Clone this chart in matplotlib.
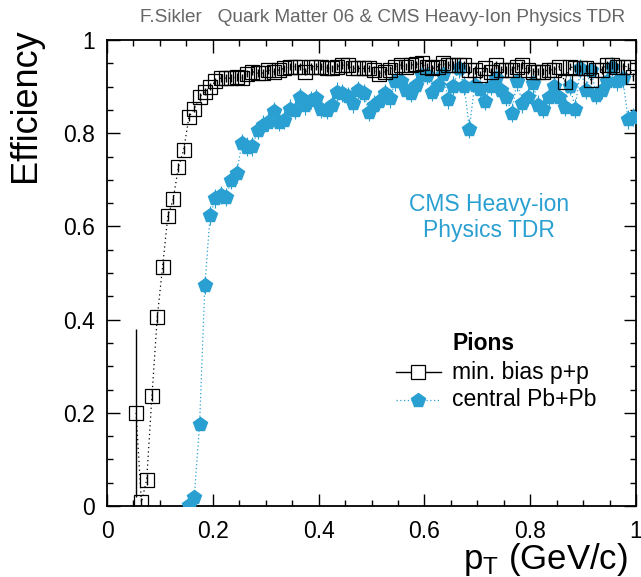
import matplotlib
matplotlib.use("Agg")
import matplotlib.pyplot as plt
from matplotlib.ticker import MultipleLocator
from matplotlib.lines import Line2D

plt.rcParams['font.family'] = ['Liberation Sans', 'DejaVu Sans']
plt.rcParams['mathtext.fontset'] = 'custom'
plt.rcParams['mathtext.rm'] = 'Liberation Sans'
plt.rcParams['mathtext.it'] = 'Liberation Sans'

# ---- data -------------------------------------------------------------
bin_width = 0.01
pp_first_center = 0.055
pbpb_first_center = 0.155

eff_pp = [0.200, 0.008, 0.056, 0.237, 0.405, 0.513, 0.622, 0.658, 0.727, 0.765,
          0.835, 0.853, 0.878, 0.889, 0.900, 0.911, 0.918, 0.918, 0.918, 0.921,
          0.919, 0.928, 0.932, 0.929, 0.929, 0.936, 0.932, 0.936, 0.939, 0.943,
          0.943, 0.943, 0.932, 0.943, 0.943, 0.943, 0.940, 0.939, 0.943, 0.946,
          0.946, 0.939, 0.939, 0.939, 0.939, 0.936, 0.928, 0.932, 0.936, 0.943,
          0.946, 0.943, 0.946, 0.948, 0.950, 0.943, 0.939, 0.943, 0.950, 0.946,
          0.946, 0.946, 0.946, 0.936, 0.936, 0.925, 0.939, 0.932, 0.946, 0.936,
          0.936, 0.936, 0.943, 0.946, 0.936, 0.932, 0.932, 0.932, 0.936, 0.936,
          0.943, 0.910, 0.943, 0.939, 0.939, 0.939, 0.914, 0.936, 0.936, 0.946,
          0.946, 0.943, 0.943, 0.943, 0.921]
err_pp = [0.180, 0.010, 0.012, 0.012, 0.012, 0.012, 0.010, 0.010, 0.010, 0.010] + [0.008] * 85

eff_pbpb = [0.002, 0.020, 0.175, 0.474, 0.624, 0.660, 0.667, 0.663, 0.700, 0.714,
            0.778, 0.771, 0.772, 0.807, 0.818, 0.825, 0.848, 0.825, 0.828, 0.853,
            0.850, 0.878, 0.860, 0.871, 0.875, 0.853, 0.850, 0.860, 0.889, 0.886,
            0.880, 0.864, 0.893, 0.886, 0.846, 0.861, 0.870, 0.886, 0.875, 0.911,
            0.911, 0.893, 0.886, 0.903, 0.925, 0.925, 0.889, 0.903, 0.928, 0.873,
            0.902, 0.939, 0.902, 0.810, 0.903, 0.894, 0.869, 0.902, 0.918, 0.893,
            0.878, 0.844, 0.911, 0.864, 0.878, 0.907, 0.861, 0.853, 0.878, 0.902,
            0.878, 0.857, 0.902, 0.853, 0.939, 0.893, 0.936, 0.882, 0.893, 0.913,
            0.943, 0.911, 0.918, 0.830, 0.835]
err_pbpb = [0.010] * 3 + [0.02] * 82

pt_pp = [round(pp_first_center + bin_width * i, 3) for i in range(len(eff_pp))]
pt_pbpb = [round(pbpb_first_center + bin_width * i, 3) for i in range(len(eff_pbpb))]

x_ticks = [0, 0.2, 0.4, 0.6, 0.8, 1]
x_ticklabels = ['0', '0.2', '0.4', '0.6', '0.8', '1']
y_ticks = [0, 0.2, 0.4, 0.6, 0.8, 1]
y_ticklabels = ['0', '0.2', '0.4', '0.6', '0.8', '1']

blue = '#2aa0d2'

# ---- figure -----------------------------------------------------------
fig = plt.figure(figsize=(6.41, 5.77), dpi=100)
ax = fig.add_axes([107/641, 1 - 506/577, (636 - 107)/641, (506 - 40)/577])

ax.errorbar(pt_pbpb, eff_pbpb, yerr=err_pbpb, fmt='p', color=blue, ms=10.5,
            mec=blue, mfc=blue, elinewidth=0.8, ecolor=blue, capsize=0, zorder=3)
ax.plot(pt_pbpb, eff_pbpb, ls=(0, (1, 2)), color=blue, lw=0.9, zorder=2)
ax.errorbar(pt_pp, eff_pp, yerr=err_pp, fmt='s', color='black', ms=9.8,
            mfc='none', mec='black', mew=0.9, elinewidth=1.0, ecolor='black',
            capsize=0, zorder=4)
ax.plot(pt_pp, eff_pp, ls=(0, (1, 2.5)), color='black', lw=0.9, zorder=2)

ax.set_xlim(0, 1)
ax.set_ylim(0, 1)
ax.set_xticks(x_ticks)
ax.set_xticklabels(x_ticklabels)
ax.set_yticks(y_ticks)
ax.set_yticklabels(y_ticklabels)
ax.xaxis.set_minor_locator(MultipleLocator(0.05))
ax.yaxis.set_minor_locator(MultipleLocator(0.05))
ax.tick_params(which='both', direction='in', top=True, right=True, labelsize=16.5,
               width=1.0)
ax.tick_params(which='major', length=9)
ax.tick_params(which='minor', length=4.5)
ax.tick_params(axis='x', pad=10)
ax.tick_params(axis='y', pad=9)
for s in ax.spines.values():
    s.set_linewidth(1.3)


def fx(px):
    return px / 641


def fy(py):
    return 1 - py / 577


# axis titles
fig.text(fx(25), fy(28), 'Efficiency', rotation=90, ha='center', va='top',
         fontsize=26)
fig.text(fx(628), fy(560), r'p$_{\mathrm{T}}$ (GeV/c)', ha='right',
         va='center', fontsize=25)

# header
fig.text(fx(625), fy(18),
         'F.Sikler   Quark Matter 06 & CMS Heavy-Ion Physics TDR',
         ha='right', va='center', fontsize=13.7, color='#666666')

# CMS label
fig.text(fx(489), fy(205), 'CMS Heavy-ion', ha='center', va='center',
         fontsize=16.5, color=blue)
fig.text(fx(489), fy(231), 'Physics TDR', ha='center', va='center',
         fontsize=16.5, color=blue)

# legend (manual)
fig.text(fx(453), fy(343), 'Pions', ha='left', va='center', fontsize=16.5,
         fontweight='bold')
fig.add_artist(Line2D([fx(396), fx(441)], [fy(372), fy(372)], color='black', lw=1.0))
fig.add_artist(Line2D([fx(418)], [fy(372)], marker='s', ms=9.8, mfc='white',
                      mec='black', mew=0.9, color='black'))
fig.text(fx(452), fy(372), 'min. bias p+p', ha='left', va='center', fontsize=16.5)
fig.add_artist(Line2D([fx(396), fx(441)], [fy(400), fy(400)], color=blue, lw=0.9,
                      ls=(0, (1, 2))))
fig.add_artist(Line2D([fx(418)], [fy(400)], marker='p', ms=10.5, mfc=blue,
                      mec=blue, color=blue))
fig.text(fx(452), fy(400), 'central Pb+Pb', ha='left', va='center', fontsize=16.5)

fig.savefig('out.png', dpi=100)
